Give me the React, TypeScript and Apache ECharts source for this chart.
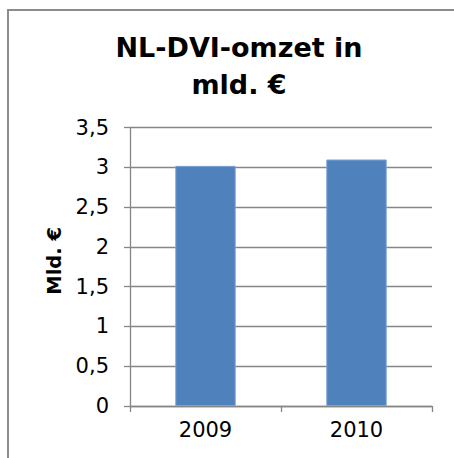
import React, { useEffect, useRef } from "react";
import * as echarts from "echarts";

const categories = ["2009", "2010"];
const omzet = [3.02, 3.1];
const titleText = "NL-DVI-omzet in\nmld. €";
const yAxisName = "Mld. €";

export default function App() {
  const ref = useRef<HTMLDivElement>(null);
  useEffect(() => {
    if (!ref.current) return;
    const chart = echarts.init(ref.current, null, { renderer: "svg" });
    const gray = "#868686";
    chart.setOption({
      animation: false,
      backgroundColor: "#ffffff",
      textStyle: { fontFamily: "DejaVu Sans" },
      title: {
        text: titleText,
        left: 234,
        top: 24,
        textAlign: "center",
        textStyle: {
          fontFamily: "DejaVu Sans",
          fontWeight: "bold",
          fontSize: 27,
          lineHeight: 37,
          color: "#000",
        },
      },
      graphic: [
        {
          type: "rect",
          shape: { x: 8, y: 10, width: 600, height: 600 },
          style: { fill: "none", stroke: "#8c8c8c", lineWidth: 2 },
          silent: true,
        },
      ],
      grid: { left: 130, right: 22, top: 127.7, bottom: 52, containLabel: false },
      xAxis: {
        type: "category",
        data: categories,
        axisLine: { show: true, lineStyle: { color: gray, width: 1.3 } },
        axisTick: { show: true, alignWithLabel: false, length: 6, inside: false, lineStyle: { color: gray, width: 1.3 } },
        axisLabel: { color: "#000", fontSize: 21, fontFamily: "DejaVu Sans", margin: 13 },
        splitLine: { show: false },
      },
      yAxis: {
        type: "value",
        min: 0,
        max: 3.5,
        interval: 0.5,
        name: yAxisName,
        nameLocation: "middle",
        nameGap: 63,
        nameRotate: 90,
        nameTextStyle: {
          fontFamily: "DejaVu Sans",
          fontWeight: "bold",
          fontSize: 19.5,
          color: "#000",
          padding: [0, 0, 0, 12],
        },
        axisLine: { show: true, lineStyle: { color: gray, width: 1.3 } },
        axisTick: { show: true, length: 6, inside: false, lineStyle: { color: gray, width: 1.3 } },
        axisLabel: {
          color: "#000",
          fontSize: 21,
          fontFamily: "DejaVu Sans",
          margin: 21,
          formatter: (v: number) => String(v).replace(".", ","),
        },
        splitLine: { show: true, lineStyle: { color: gray, width: 1.3 } },
      },
      series: [
        {
          type: "bar",
          data: omzet,
          barWidth: "40%",
          itemStyle: { color: "#4F81BD", borderColor: "#7DA3D6", borderWidth: 1 },
        },
      ],
    });
    return () => chart.dispose();
  }, []);
  return (
    <div
      ref={ref}
      style={{ position: "fixed", left: 0, top: 0, width: 454, height: 458 }}
    />
  );
}
